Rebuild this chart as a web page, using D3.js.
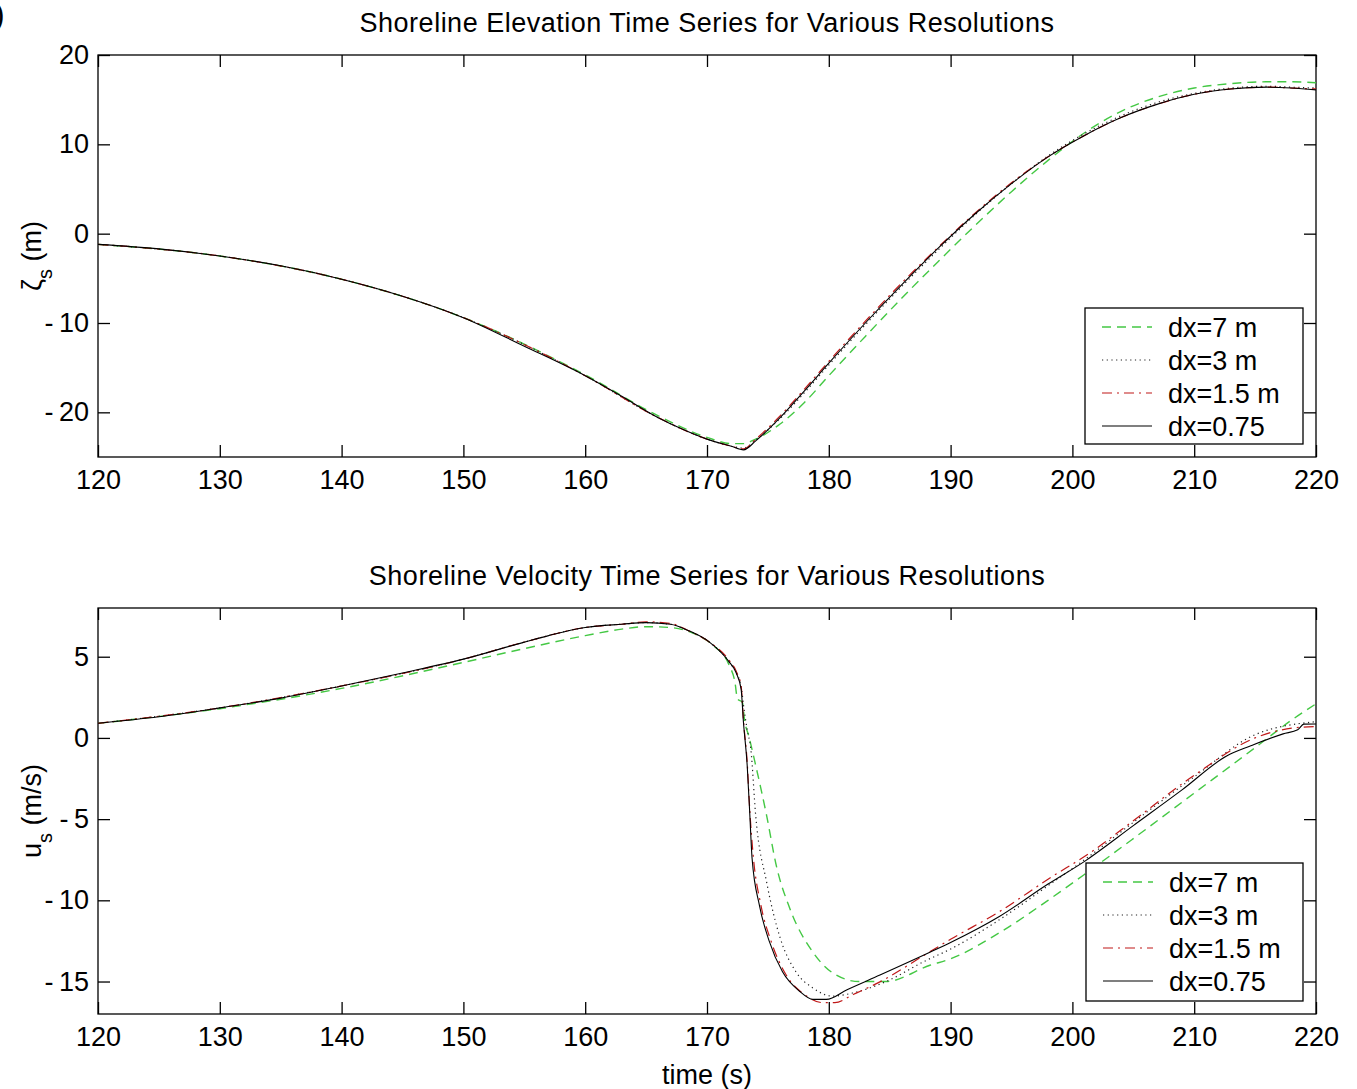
<!DOCTYPE html>
<html><head><meta charset="utf-8">
<script src="https://cdn.jsdelivr.net/npm/d3@7"></script>
<style>body{margin:0;background:#fff}svg{display:block;font-family:"Liberation Sans",Arial,sans-serif}</style>
</head><body>
<script>
// ---- data ----
const xTicks = [120,130,140,150,160,170,180,190,200,210,220];
const yTicksTop = [-20,-10,0,10,20];
const yTicksBot = [-15,-10,-5,0,5];
const legendLabels = ["dx=7 m","dx=3 m","dx=1.5 m","dx=0.75"];

// top: shoreline elevation
const tTop075 = [120,125,130,135,140,145,150,155,160,163,166,168,170,172,173,174,176,178,180,183,186,189,192,195,198,201,204,207,210,213,216,218,220];
const zTop075 = [-1.2,-1.7,-2.5,-3.6,-5.1,-7.0,-9.4,-12.6,-15.9,-18.2,-20.6,-21.9,-23.0,-23.8,-24.2,-23.2,-20.6,-17.6,-14.5,-10.0,-5.7,-1.6,2.2,5.6,8.6,11.0,13.0,14.5,15.6,16.2,16.4,16.3,16.1];
const tTop15 = [120,130,140,150,160,166,170,172,173,174,176,178,180,183,186,189,192,195,198,201,204,207,210,213,216,218,220];
const zTop15 = [-1.2,-2.5,-5.1,-9.4,-15.9,-20.6,-23.0,-23.8,-24.1,-23.0,-20.4,-17.4,-14.3,-9.8,-5.5,-1.5,2.3,5.7,8.6,11.0,13.0,14.5,15.6,16.2,16.4,16.3,16.2];
const tTop3 = [120,130,140,150,160,166,170,172,173,174,176,178,180,183,186,189,192,195,198,201,204,207,210,213,216,218,220];
const zTop3 = [-1.2,-2.5,-5.1,-9.4,-15.9,-20.6,-23.0,-23.8,-24.0,-23.1,-20.7,-17.8,-14.7,-10.2,-5.9,-1.8,2.1,5.6,8.7,11.2,13.2,14.7,15.7,16.3,16.5,16.4,16.3];
const tTop7 = [120,130,140,150,160,166,170,172,173,174,176,178,180,183,186,189,192,195,198,201,204,207,210,213,216,218,220];
const zTop7 = [-1.2,-2.5,-5.1,-9.4,-15.8,-20.4,-22.8,-23.5,-23.5,-23.0,-21.3,-18.9,-15.9,-11.5,-7.2,-3.1,0.9,4.7,8.2,11.3,13.7,15.3,16.3,16.8,17.0,17.0,16.9];

// bottom: shoreline velocity
const tBot075 = [120,125,130,135,140,145,150,155,157,160,163,165,167,168.5,170.2,171.8,172.4,172.8,173.0,173.3,173.5,173.7,174.3,175.1,176.2,177.6,178.7,179.8,181.5,184.2,188.3,190,194,198,201,205,209,212.7,214.6,217.3,218.5,219,220];
const uBot075 = [0.9,1.3,1.85,2.45,3.2,4.0,4.85,5.9,6.3,6.8,7.0,7.1,7.0,6.6,5.9,4.7,4.0,3.0,0.9,-1.7,-4.5,-7.4,-10.3,-12.5,-14.4,-15.6,-16.1,-16.1,-15.5,-14.6,-13.2,-12.6,-11.0,-9.0,-7.6,-5.4,-3.2,-1.1,-0.5,0.25,0.5,0.85,0.86];
const tBot15 = [120,130,140,150,155,160,163,165,167,168.5,170.2,171.8,172.4,172.8,173.0,173.3,173.5,173.8,174.4,175.3,176.5,178,179.5,180.5,182,184.5,188,190,194,198,201.6,205,210,215,218,220];
const uBot15 = [0.9,1.85,3.2,4.85,5.9,6.8,7.0,7.15,7.05,6.6,5.9,4.8,4.1,3.2,1.0,-1.5,-4.3,-7.3,-10.2,-12.6,-14.6,-15.8,-16.3,-16.3,-15.8,-14.9,-13.3,-12.4,-10.7,-8.7,-7.0,-5.1,-2.3,0.0,0.6,0.7];
const tBot3 = [120,130,140,150,155,160,163,165,167,168.5,170.2,171.8,172.4,172.8,173.0,173.3,173.6,174.0,174.9,176,177.3,178.7,180.3,182,184.7,188,190,194,198,201,205,210,215,220];
const uBot3 = [0.9,1.85,3.2,4.85,5.9,6.8,7.0,7.1,7.0,6.6,5.9,4.7,4.0,3.2,2.0,0.5,-0.7,-4.8,-8.9,-12.3,-14.4,-15.4,-15.9,-15.7,-15.0,-13.7,-13.0,-11.2,-9.1,-7.5,-5.2,-2.4,0.2,1.0];
const tBot7 = [120,130,140,150,155,160,163,165,167,169,170.5,171.8,172.3,172.5,172.9,173.1,173.4,174,174.9,175.7,176.8,178.7,180.6,182.5,184.7,188.3,190,194,198,201,205,210,215,218,220];
const uBot7 = [0.9,1.8,3.05,4.65,5.5,6.3,6.7,6.85,6.8,6.4,5.7,4.5,3.4,2.4,2.2,1.0,0.2,-1.7,-4.8,-7.9,-10.5,-13.2,-14.6,-15.0,-15.0,-14.0,-13.6,-12.0,-10.0,-8.4,-6.2,-3.4,-0.6,1.1,2.1];

// ---- layout ----
const W = 1357, H = 1089;
const svg = d3.select("body").append("svg").attr("width", W).attr("height", H);
const left = 98, right = 1316;
const styles = [
  {color:"#44c844", dash:"9,6", w:1.4},
  {color:"#222", dash:"1.2,3.5", w:1.2},
  {color:"#c01818", dash:"10,5,2,5", w:1.2},
  {color:"#000", dash:null, w:1.1}
];

svg.append("text").attr("x", -6).attr("y", 25).attr("font-size", 32).text(")");

function panel(cfg) {
  const x = d3.scaleLinear().domain([120,220]).range([left,right]);
  const y = d3.scaleLinear().domain(cfg.ydom).range([cfg.bottom, cfg.top]);
  const g = svg.append("g");
  const tl = 12;
  const fmt = d => d < 0 ? "-\u2009" + String(-d) : String(d);
  g.append("rect").attr("x", left).attr("y", cfg.top).attr("width", right-left).attr("height", cfg.bottom-cfg.top)
    .attr("fill","none").attr("stroke","#000").attr("stroke-width",1.3);
  const ax = g.append("g").attr("transform", `translate(0,${cfg.bottom})`)
    .call(d3.axisBottom(x).tickValues(xTicks).tickSize(-tl).tickPadding(13).tickFormat(d => String(d)));
  const axT = g.append("g").attr("transform", `translate(0,${cfg.top})`)
    .call(d3.axisTop(x).tickValues(xTicks).tickSize(-tl).tickFormat(""));
  const ay = g.append("g").attr("transform", `translate(${left},0)`)
    .call(d3.axisLeft(y).tickValues(cfg.yticks).tickSize(-tl).tickPadding(9).tickFormat(fmt));
  const ayR = g.append("g").attr("transform", `translate(${right},0)`)
    .call(d3.axisRight(y).tickValues(cfg.yticks).tickSize(-tl).tickFormat(""));
  [ax,axT,ay,ayR].forEach(a => { a.select(".domain").remove(); a.selectAll("line").attr("stroke","#000").attr("stroke-width",1.3); a.selectAll("text").attr("font-size",27).attr("fill","#000").attr("font-family","Liberation Sans, Arial, sans-serif").style("white-space","pre"); });
  // title
  g.append("text").attr("x", (left+right)/2).attr("y", cfg.top-23).attr("text-anchor","middle").attr("font-size",27).attr("letter-spacing",0.5).text(cfg.title);
  // ylabel
  const yl = g.append("text").attr("transform", `translate(41,${(cfg.top+cfg.bottom)/2}) rotate(-90)`).attr("text-anchor","middle").attr("font-size",27);
  yl.append("tspan").text(cfg.ysym);
  yl.append("tspan").attr("baseline-shift","sub").attr("font-size",20).text("s");
  yl.append("tspan").text(" " + cfg.yunit);
  // lines
  const clipId = "clip" + cfg.top;
  svg.append("clipPath").attr("id", clipId).append("rect").attr("x", left).attr("y", cfg.top).attr("width", right-left).attr("height", cfg.bottom-cfg.top);
  const line = d3.line().curve(d3.curveMonotoneX).x(d => x(d[0])).y(d => y(d[1]));
  cfg.series.forEach((s, i) => {
    const pts = s.t.map((t, k) => [t, s.v[k]]);
    g.append("path").attr("d", line(pts)).attr("fill","none").attr("clip-path", `url(#${clipId})`)
      .attr("stroke", styles[i].color).attr("stroke-width", styles[i].w)
      .attr("stroke-dasharray", styles[i].dash);
  });
  // legend
  const L = cfg.legend;
  const lg = g.append("g");
  lg.append("rect").attr("x", L.x).attr("y", L.y).attr("width", L.w).attr("height", L.h).attr("fill","#fff").attr("stroke","#000").attr("stroke-width",1.3);
  legendLabels.forEach((lab, i) => {
    const cy = L.y + 19 + i*33;
    lg.append("line").attr("x1", L.x+17).attr("x2", L.x+67).attr("y1", cy).attr("y2", cy)
      .attr("stroke", styles[i].color).attr("stroke-width", styles[i].w).attr("stroke-dasharray", styles[i].dash);
    lg.append("text").attr("x", L.x+83).attr("y", cy+10).attr("font-size",27).text(lab);
  });
  return {x, y};
}

panel({top:55, bottom:457, ydom:[-25,20], yticks:yTicksTop, title:"Shoreline Elevation Time Series for Various Resolutions",
  ysym:"ζ", yunit:"(m)", legend:{x:1085,y:308,w:218,h:136},
  series:[{t:tTop7,v:zTop7},{t:tTop3,v:zTop3},{t:tTop15,v:zTop15},{t:tTop075,v:zTop075}]});
panel({top:608, bottom:1014, ydom:[-17,8], yticks:yTicksBot, title:"Shoreline Velocity Time Series for Various Resolutions",
  ysym:"u", yunit:"(m/s)", legend:{x:1086,y:863,w:217,h:138},
  series:[{t:tBot7,v:uBot7},{t:tBot3,v:uBot3},{t:tBot15,v:uBot15},{t:tBot075,v:uBot075}]});

svg.append("text").attr("x", 707).attr("y", 1084).attr("text-anchor","middle").attr("font-size",27).text("time (s)");
</script>
</body></html>
